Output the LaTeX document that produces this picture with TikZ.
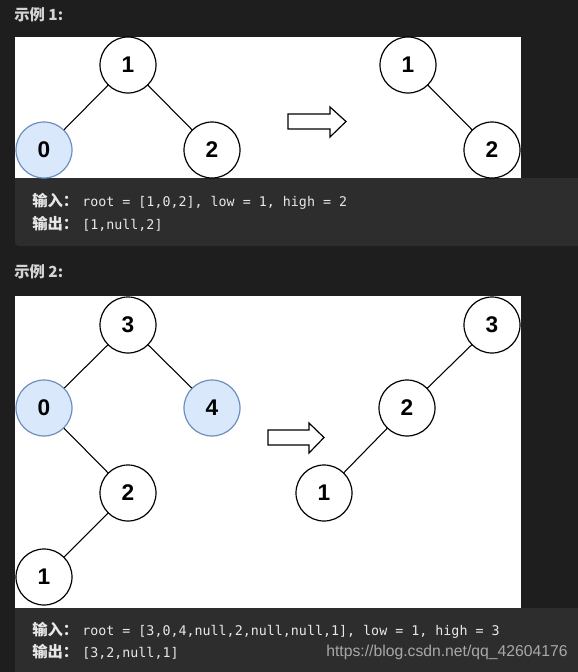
\documentclass[tikz,border=0pt]{standalone}
\usepackage{fontspec}
\setmainfont{Liberation Sans}
\setmonofont{DejaVu Sans Mono}
\newfontfamily\cjk{Noto Sans CJK SC}
\definecolor{bgdark}{HTML}{1E1E1E}
\definecolor{codebg}{HTML}{2D2D2D}
\definecolor{codefg}{HTML}{E8E8E8}
\definecolor{headfg}{HTML}{D4D4D4}
\definecolor{hlfill}{HTML}{DAE8FC}
\definecolor{hldraw}{HTML}{6C8EBF}
\definecolor{wmark}{HTML}{A8A8A8}
\begin{document}
\begin{tikzpicture}[x=0.75pt,y=-0.75pt,
  tnode/.style={circle,draw=black,line width=0.9pt,fill=white,minimum size=42pt,inner sep=0pt,
    font=\fontsize{17}{17}\selectfont\bfseries},
  hl/.style={tnode,fill=hlfill,draw=hldraw},
  edge/.style={draw=black,line width=0.8pt},
  blockarrow/.style={draw=black,line width=0.9pt,fill=white,line join=miter},
  heading/.style={anchor=west,inner sep=0pt,text=headfg,font=\cjk\bfseries\fontsize{11.5}{12}\selectfont},
  codeline/.style={anchor=west,inner sep=0pt,text=codefg,font=\fontsize{10}{12}\selectfont},
]
\useasboundingbox (0,0) rectangle (578,672);
\fill[bgdark] (0,0) rectangle (578,672);

% ---------- Example 1 ----------
\node[heading] (h1) at (14,15) {示例 1:};
\fill[white] (15,37) rectangle (521,178);
\fill[codebg,rounded corners=3pt] (15,178) rectangle (590,246);
\fill[codebg] (15,178) rectangle (590,190);

\node[tnode] (a1) at (128,65) {1};
\node[hl]    (a0) at (44,150) {0};
\node[tnode] (a2) at (212,150) {2};
\draw[edge] (a1) -- (a0);
\draw[edge] (a1) -- (a2);

\draw[blockarrow] (288,114) -- (330,114) -- (330,107) -- (346,121.5) -- (330,137) -- (330,129) -- (288,129) -- cycle;

\node[tnode] (b1) at (408,65) {1};
\node[tnode] (b2) at (492,150) {2};
\draw[edge] (b1) -- (b2);

\node[codeline] (c1a) at (32,201.5) {{\cjk\bfseries\fontsize{11.5}{12}\selectfont 输入：}\hspace{3pt}\texttt{root = [1,0,2], low = 1, high = 2}};
\node[codeline] (c1b) at (32,223.5) {{\cjk\bfseries\fontsize{11.5}{12}\selectfont 输出：}\hspace{3pt}\texttt{[1,null,2]}};

% ---------- Example 2 ----------
\node[heading] (h2) at (14,272) {示例 2:};
\fill[white] (15,296) rectangle (521,608);
\fill[codebg] (15,608) rectangle (590,672);

\node[tnode] (d3) at (128,325) {3};
\node[hl]    (d0) at (44,408) {0};
\node[hl]    (d4) at (212,408) {4};
\node[tnode] (d2) at (128,493) {2};
\node[tnode] (d1) at (44,577) {1};
\draw[edge] (d3) -- (d0);
\draw[edge] (d3) -- (d4);
\draw[edge] (d0) -- (d2);
\draw[edge] (d2) -- (d1);

\draw[blockarrow] (268,430) -- (309,430) -- (309,423) -- (324,437.5) -- (309,453) -- (309,445) -- (268,445) -- cycle;

\node[tnode] (e3) at (492,325) {3};
\node[tnode] (e2) at (407,408) {2};
\node[tnode] (e1) at (324,493) {1};
\draw[edge] (e3) -- (e2);
\draw[edge] (e2) -- (e1);

\node[codeline] (c2a) at (32,630.5) {{\cjk\bfseries\fontsize{11.5}{12}\selectfont 输入：}\hspace{3pt}\texttt{root = [3,0,4,null,2,null,null,1], low = 1, high = 3}};
\node[codeline] (c2b) at (32,652) {{\cjk\bfseries\fontsize{11.5}{12}\selectfont 输出：}\hspace{3pt}\texttt{[3,2,null,1]}};
\node[anchor=east,inner sep=0pt,text=wmark,font=\fontsize{11.8}{12}\selectfont] (wm) at (568,652) {https://blog.csdn.net/qq\_42604176};
\end{tikzpicture}
\end{document}
